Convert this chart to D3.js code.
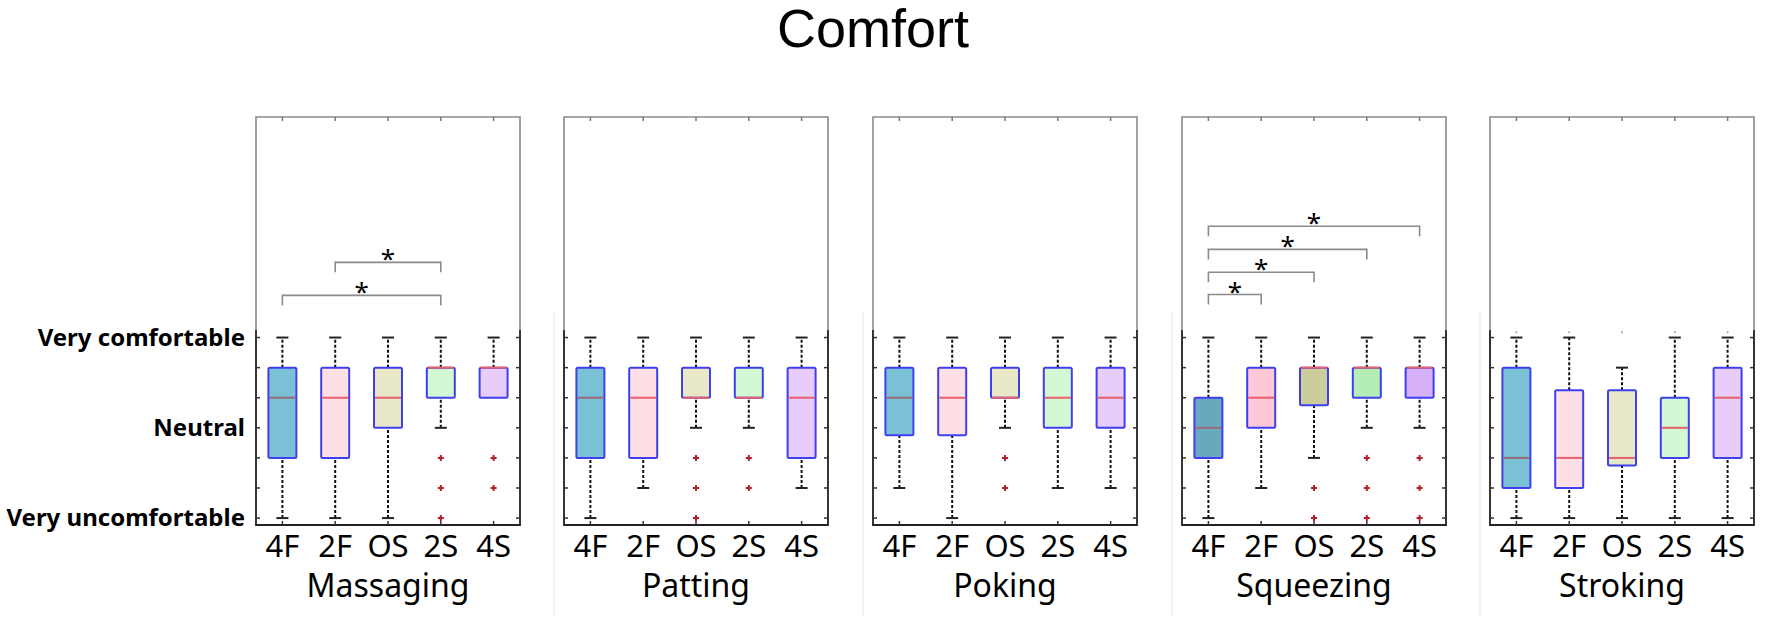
<!DOCTYPE html>
<html lang="en">

<head>
  <meta charset="utf-8">
  <title>Comfort</title>
  <script src="https://d3js.org/d3.v7.min.js"></script>
  <style>
    body { margin: 0; background: #fff; }
    text { font-family: "Noto Sans", sans-serif; }
  </style>
</head>

<body>
  <script>
    // ---- data (7-point scale, 1 = very uncomfortable, 7 = very comfortable)
    var techniques = ['Massaging', 'Patting', 'Poking', 'Squeezing', 'Stroking'];
    var conditions = ['4F', '2F', 'OS', '2S', '4S'];
    var levelLabels = [[7, 'Very comfortable'], [4, 'Neutral'], [1, 'Very uncomfortable']];

    // [lower whisker, q1, median, q3, upper whisker] per condition
    var massaging = [[1, 3, 5, 6, 7], [1, 3, 5, 6, 7], [1, 4, 5, 6, 7], [4, 5, 6, 6, 7], [5, 5, 6, 6, 7]];
    var patting = [[1, 3, 5, 6, 7], [2, 3, 5, 6, 7], [4, 5, 5, 6, 7], [4, 5, 5, 6, 7], [2, 3, 5, 6, 7]];
    var poking = [[2, 3.75, 5, 6, 7], [1, 3.75, 5, 6, 7], [4, 5, 5, 6, 7], [2, 4, 5, 6, 7], [2, 4, 5, 6, 7]];
    var squeezing = [[1, 3, 4, 5, 7], [2, 4, 5, 6, 7], [3, 4.75, 6, 6, 7], [4, 5, 6, 6, 7], [4, 5, 6, 6, 7]];
    var stroking = [[1, 2, 3, 6, 7], [1, 2, 3, 5.25, 7], [1, 2.75, 3, 5.25, 6], [1, 3, 4, 5, 7], [1, 3, 5, 6, 7]];

    // outliers per condition
    var massagingOut = [[], [], [], [3, 2, 1], [3, 2]];
    var pattingOut = [[], [], [3, 2, 1], [3, 2], []];
    var pokingOut = [[], [], [3, 2], [], []];
    var squeezingOut = [[], [], [2, 1], [3, 2, 1], [3, 2, 1]];
    var strokingOut = [[], [], [], [], []];
    var strokingDots = [7.18, 7.18, 7.18, 7.18, 7.18]; // tiny marks above the whiskers

    // significance brackets: [from, to, level]
    var massagingSig = [['4F', '2S', 8.4], ['2F', '2S', 9.5]];
    var squeezingSig = [['4F', '2F', 8.43], ['4F', 'OS', 9.17], ['4F', '2S', 9.93], ['4F', '4S', 10.7]];

    var boxes = [massaging, patting, poking, squeezing, stroking];
    var outliers = [massagingOut, pattingOut, pokingOut, squeezingOut, strokingOut];
    var sigs = [massagingSig, [], [], squeezingSig, []];

    // ---- styles
    var fills = ['#7bc1d5', '#ffdfe6', '#e8e8c8', '#d4f8d4', '#e8cdfb'];
    var fillsSqueeze = ['#6aa9bd', '#ffc8d6', '#cccc9c', '#b4eeb4', '#d6b0f8'];
    var medianColors = ['#9a6a78', '#e8606a', '#e8606a', '#e8606a', '#e8606a'];

    var W = 1772, H = 625;
    var panelLefts = [256, 564, 873, 1182, 1490];
    var panelW = 264;
    var plotTop = 117, plotBottom = 525;

    var svg = d3.select('body').append('svg')
      .attr('width', W)
      .attr('height', H);

    var y = d3.scaleLinear().domain([0.77, 14.33]).range([plotBottom, plotTop]);
    var levels = d3.range(1, 8);

    svg.append('text')
      .attr('x', 873)
      .attr('y', 47)
      .attr('text-anchor', 'middle')
      .style('font-family', '"Liberation Sans", Arial, sans-serif')
      .style('font-size', '54px')
      .text('Comfort');

    // faint separators between the pasted panels
    panelLefts.slice(1).forEach(function (l) {
      svg.append('line')
        .attr('x1', l - 10).attr('x2', l - 10)
        .attr('y1', 312).attr('y2', 617)
        .attr('stroke', '#efefef').attr('stroke-width', 1.5);
    });

    // y labels on the first panel
    svg.selectAll('.ylab')
      .data(levelLabels)
      .enter().append('text')
      .attr('class', 'ylab')
      .attr('x', 245)
      .attr('y', function (d) { return y(d[0]); })
      .attr('dy', '0.35em')
      .attr('text-anchor', 'end')
      .style('font-size', '24px')
      .style('font-weight', 'bold')
      .text(function (d) { return d[1]; });

    techniques.forEach(function (name, p) {
      var left = panelLefts[p], right = left + panelW;
      var x = d3.scaleBand().domain(conditions).range([left, right]);
      var bw = 28, cap = 12;
      var g = svg.append('g');
      var split = y(7.25);

      // frame: upper part lighter grey, lower part dark
      g.append('path')
        .attr('d', 'M' + left + ',' + split + 'V' + plotTop + 'H' + right + 'V' + split)
        .attr('fill', 'none').attr('stroke', '#8a8a8a').attr('stroke-width', 1.6);
      g.append('path')
        .attr('d', 'M' + left + ',' + split + 'V' + plotBottom + 'H' + right + 'V' + split)
        .attr('fill', 'none').attr('stroke', '#222').attr('stroke-width', 1.8);

      // inward ticks
      levels.forEach(function (v) {
        g.append('line').attr('x1', left).attr('x2', left + 4)
          .attr('y1', y(v)).attr('y2', y(v)).attr('stroke', '#333').attr('stroke-width', 1.5);
        g.append('line').attr('x1', right).attr('x2', right - 4)
          .attr('y1', y(v)).attr('y2', y(v)).attr('stroke', '#333').attr('stroke-width', 1.5);
      });
      conditions.forEach(function (c) {
        var cx = x(c) + x.bandwidth() / 2;
        g.append('line').attr('x1', cx).attr('x2', cx)
          .attr('y1', plotBottom).attr('y2', plotBottom - 4).attr('stroke', '#333').attr('stroke-width', 1.5);
        g.append('line').attr('x1', cx).attr('x2', cx)
          .attr('y1', plotTop).attr('y2', plotTop + 4).attr('stroke', '#777').attr('stroke-width', 1.5);
      });

      // x labels + panel title
      g.selectAll('.xlab')
        .data(conditions)
        .enter().append('text')
        .attr('x', function (d) { return x(d) + x.bandwidth() / 2; })
        .attr('y', 557)
        .attr('text-anchor', 'middle')
        .style('font-size', '31px')
        .text(function (d) { return d; });
      g.append('text')
        .attr('x', (left + right) / 2)
        .attr('y', 597)
        .attr('text-anchor', 'middle')
        .style('font-size', '32px')
        .text(name);

      var fillSet = name === 'Squeezing' ? fillsSqueeze : fills;

      boxes[p].forEach(function (b, i) {
        var cx = x(conditions[i]) + x.bandwidth() / 2;
        var bg = g.append('g');
        // whiskers
        [[b[0], b[1]], [b[3], b[4]]].forEach(function (seg) {
          if (seg[0] === seg[1]) return;
          bg.append('line')
            .attr('x1', cx).attr('x2', cx)
            .attr('y1', y(seg[0])).attr('y2', y(seg[1]))
            .attr('stroke', '#111').attr('stroke-width', 2)
            .attr('stroke-dasharray', '3,2');
        });
        [b[0], b[4]].forEach(function (v, k) {
          if (v === b[k === 0 ? 1 : 3]) return;
          bg.append('line')
            .attr('x1', cx - cap / 2).attr('x2', cx + cap / 2)
            .attr('y1', y(v)).attr('y2', y(v))
            .attr('stroke', '#222').attr('stroke-width', 2);
        });
        bg.append('rect')
          .attr('x', cx - bw / 2)
          .attr('y', y(b[3]))
          .attr('width', bw)
          .attr('height', y(b[1]) - y(b[3]))
          .attr('rx', 1.5)
          .attr('fill', fillSet[i])
          .attr('stroke', '#3f3fee')
          .attr('stroke-width', 2);
        bg.append('line')
          .attr('x1', cx - bw / 2 + 1).attr('x2', cx + bw / 2 - 1)
          .attr('y1', y(b[2])).attr('y2', y(b[2]))
          .attr('stroke', medianColors[i]).attr('stroke-width', 2);

        outliers[p][i].forEach(function (v) {
          bg.append('path')
            .attr('d', 'M' + (cx - 3) + ',' + y(v) + 'h6M' + cx + ',' + (y(v) - 3) + 'v6')
            .attr('stroke', '#b3202c').attr('stroke-width', 2);
        });
        if (name === 'Stroking') {
          bg.append('circle')
            .attr('cx', cx).attr('cy', y(strokingDots[i]))
            .attr('r', 1).attr('fill', '#999');
        }
      });

      // significance brackets
      sigs[p].forEach(function (s) {
        var x1 = x(s[0]) + x.bandwidth() / 2, x2 = x(s[1]) + x.bandwidth() / 2;
        var yy = y(s[2]);
        g.append('path')
          .attr('d', 'M' + x1 + ',' + (yy + 10) + 'V' + yy + 'H' + x2 + 'V' + (yy + 10))
          .attr('fill', 'none').attr('stroke', '#8a8a8a').attr('stroke-width', 1.6);
        g.append('text')
          .attr('x', (x1 + x2) / 2)
          .attr('y', yy + 6)
          .attr('text-anchor', 'middle')
          .style('font-size', '26px')
          .text('*');
      });
    });
  </script>
</body>

</html>
